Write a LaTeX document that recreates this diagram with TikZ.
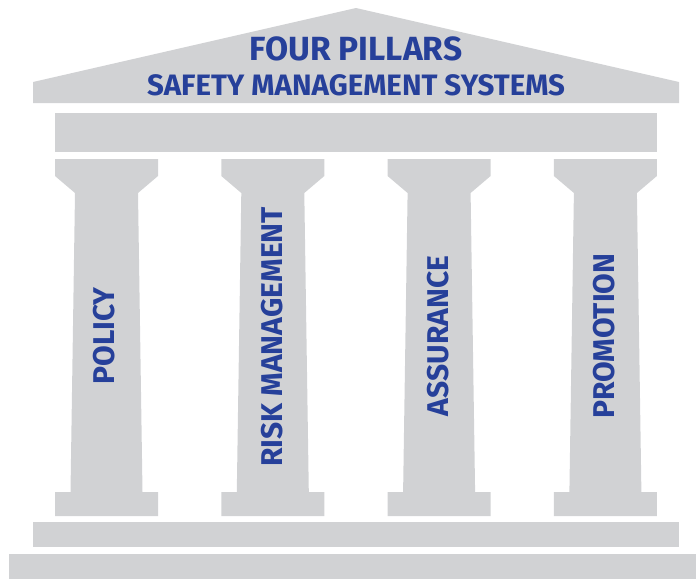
\documentclass[tikz,border=0pt]{standalone}
\usepackage{fontspec}
\setmainfont{Fira Sans}
\definecolor{stonegray}{RGB}{209,210,212}
\definecolor{smsblue}{RGB}{38,64,154}
\tikzset{
  stone/.style={fill=stonegray,draw=none},
  title/.style={text=smsblue,font=\bfseries\fontsize{33.5}{33.5}\selectfont,inner sep=0pt},
  subtitle/.style={text=smsblue,font=\bfseries\fontsize{29.5}{29.5}\selectfont,inner sep=0pt},
  pillarlabel/.style={text=smsblue,font=\bfseries\fontsize{30}{30}\selectfont,rotate=90,inner sep=0pt}
}

\begin{document}
\begin{tikzpicture}[x=1pt,y=-1pt]
\useasboundingbox (0,0) rectangle (696,579);
\fill [stone] (33,103) -- (33,82) -- (356,8) -- (679,82) -- (679,103) -- cycle;
\fill [stone] (55,113) rectangle (657,152);
\foreach \c in {106.5,272.8,439.1,605.4}
  \fill [stone] (\c-51.5,159) -- (\c+51.5,159) -- (\c+51.5,176) -- (\c+31.5,193)
    -- (\c+36,492) -- (\c+51.5,492) -- (\c+51.5,516) -- (\c-51.5,516)
    -- (\c-51.5,492) -- (\c-36,492) -- (\c-31.5,193) -- (\c-51.5,176) -- cycle;
\fill [stone] (33,522) rectangle (679,547);
\fill [stone] (9,554) rectangle (696,579);
\node [title] (fourpillars) at (356,49) {FOUR PILLARS};
\node [subtitle] (sms) at (356,85) {SAFETY MANAGEMENT SYSTEMS};
\node [pillarlabel] (policy) at (104,336) {POLICY};
\node [pillarlabel] (riskmgmt) at (272,337) {RISK MANAGEMENT};
\node [pillarlabel] (assurance) at (438,336) {ASSURANCE};
\node [pillarlabel] (promotion) at (604,336) {PROMOTION};
\end{tikzpicture}
\end{document}
